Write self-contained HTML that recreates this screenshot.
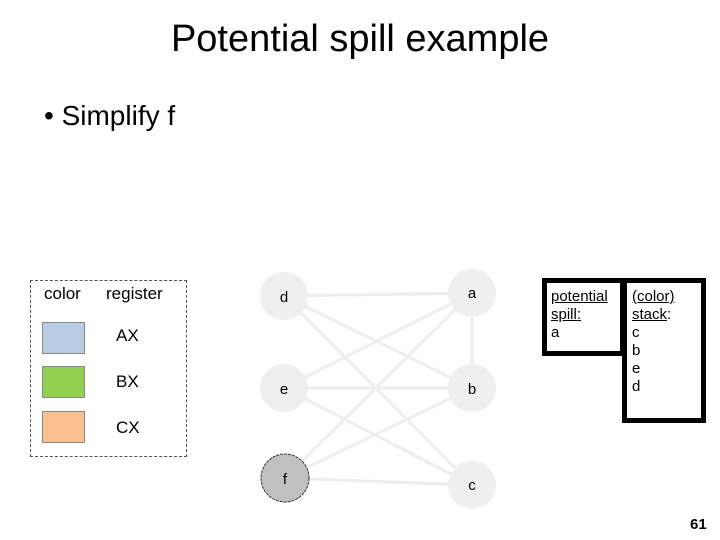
<!DOCTYPE html><html><head><style>
body{margin:0;width:720px;height:540px;background:#fff;position:relative;overflow:hidden;font-family:"Liberation Sans","DejaVu Sans",sans-serif}
.a{position:absolute;white-space:nowrap}
.sw{position:absolute;left:42px;width:41px;height:30px;border:1px solid #888}
</style></head><body>
<div class="a" style="left:0;width:720px;text-align:center;top:18px;font-size:38px">Potential spill example</div>
<div class="a" style="left:44px;top:100px;font-size:28px">• Simplify f</div>
<div class="a" style="left:30px;top:280px;width:155px;height:175px;border:1px dashed #555"></div>
<div class="a" style="left:44px;top:284px;font-size:17px">color</div>
<div class="a" style="left:106px;top:284px;font-size:17px">register</div>
<div class="sw" style="top:322px;background:#b8cce4"></div>
<div class="sw" style="top:366px;background:#92d050"></div>
<div class="sw" style="top:411px;background:#fac090"></div>
<div class="a" style="left:116px;top:326px;font-size:17px">AX</div>
<div class="a" style="left:116px;top:372px;font-size:17px">BX</div>
<div class="a" style="left:116px;top:418px;font-size:17px">CX</div>
<svg class="a" style="left:0;top:0" width="720" height="540">
<g stroke="#eee" stroke-width="3">
<line x1="284" y1="296" x2="472" y2="293"/><line x1="284" y1="296" x2="472" y2="388"/><line x1="284" y1="296" x2="472" y2="485"/>
<line x1="284" y1="388" x2="472" y2="293"/><line x1="284" y1="388" x2="472" y2="388"/><line x1="284" y1="388" x2="472" y2="485"/>
<line x1="285" y1="478" x2="472" y2="293"/><line x1="285" y1="478" x2="472" y2="388"/><line x1="285" y1="478" x2="472" y2="485"/>
<line x1="472" y1="293" x2="472" y2="388"/>
</g>
<g fill="#efefef">
<circle cx="284" cy="296" r="24"/><circle cx="472" cy="293" r="24"/><circle cx="284" cy="388" r="24"/><circle cx="472" cy="388" r="24"/><circle cx="472" cy="485" r="24"/>
</g>
<circle cx="285" cy="478" r="24" fill="#c0c0c0" stroke="#333" stroke-width="1" stroke-dasharray="3,1"/>
<g font-family="Liberation Sans,sans-serif" font-size="15" text-anchor="middle">
<text x="284" y="302">d</text><text x="472" y="298">a</text><text x="284" y="394">e</text><text x="472" y="394">b</text><text x="285" y="484">f</text><text x="472" y="490">c</text>
</g>
</svg>
<div class="a" style="left:542px;top:278px;width:73px;height:68px;border:5px solid #000;background:#fff"></div>
<div class="a" style="left:622px;top:278px;width:74px;height:135px;border:5px solid #000;background:#fff"></div>
<div class="a" style="left:551px;top:288px;font-size:15px;line-height:18px"><u>potential</u><br><u>spill:</u><br>a</div>
<div class="a" style="left:632px;top:288px;font-size:15px;line-height:18px"><u>(color)</u><br><u>stack</u>:<br>c<br>b<br>e<br>d</div>
<div class="a" style="left:690px;top:516px;font-size:15px;font-weight:bold">61</div>
</body></html>
